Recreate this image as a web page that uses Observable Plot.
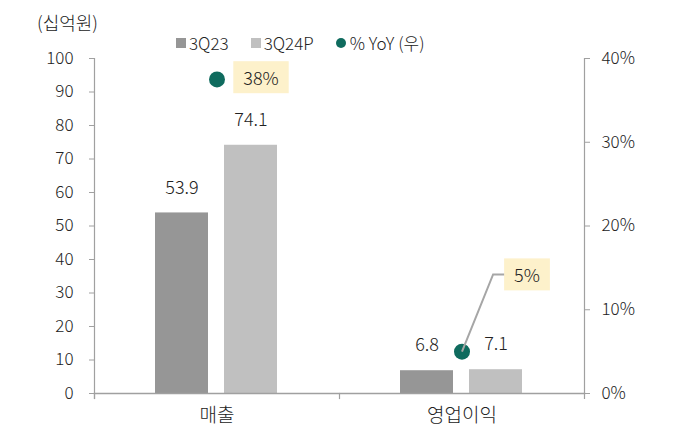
<!DOCTYPE html>
<html>
<head>
<meta charset="utf-8">
<script src="https://cdn.jsdelivr.net/npm/d3@7"></script>
<script src="https://cdn.jsdelivr.net/npm/@observablehq/plot@0.6"></script>
<style>
  body { margin: 0; background: #fff; font-family: "Noto Sans CJK KR", "Noto Sans", sans-serif; color: #222; font-weight: 300; }
  #wrap { position: relative; width: 680px; height: 438px; }
  #head { position: relative; width: 680px; height: 48px; }
  #unit { position: absolute; left: 37px; top: 9px; font-size: 18px; line-height: 26px; }
  #legend { position: absolute; left: 176px; top: 30px; display: flex; align-items: center; font-size: 17px; line-height: 26px; }
  .item { display: flex; align-items: center; margin-right: 22px; }
  .sw { width: 10px; height: 10px; margin-right: 3px; }
  .dt { width: 10px; height: 10px; border-radius: 50%; margin-right: 4px; }
  svg { display: block; overflow: visible; }
</style>
</head>
<body>
<div id="wrap">
  <div id="head">
    <div id="unit">(십억원)</div>
    <div id="legend"></div>
  </div>
</div>
<script>
// ---- data ----
const categories = ["매출", "영업이익"];
const series = ["3Q23", "3Q24P"];
const values3Q23 = [53.9, 6.8];
const values3Q24P = [74.1, 7.1];
const yoyPct = [37.5, 5.0];            // % YoY (right axis)
const yoyLabels = ["38%", "5%"];
const leftTicks = [0, 10, 20, 30, 40, 50, 60, 70, 80, 90, 100];
const rightTicksPct = [0, 10, 20, 30, 40];
const yoyLegend = "% YoY (우)";

// ---- styling / layout ----
const leftMax = 100, rightMax = 40;
const seriesColors = ["#969696", "#c0c0c0"];
const dotColor = "#0f6b5e";
const boxColor = "#fdf1cb";
const axisGray = "#a0a0a0";
const W = 680, H = 390, mT = 10, mB = 45, mL = 93, mR = 96;
const frameH = H - mT - mB;
const labelOffsets = [{dx: 44, dy: 0, leader: false}, {dx: 65, dy: -75, leader: true}];

const rows = [];
categories.forEach((c, i) => {
  rows.push({cat: c, series: series[0], value: values3Q23[i]});
  rows.push({cat: c, series: series[1], value: values3Q24P[i]});
});
const yoyRows = categories.map((c, i) => ({cat: c, pct: yoyPct[i], label: yoyLabels[i], yv: yoyPct[i] * leftMax / rightMax}));

// legend
const legend = document.getElementById("legend");
series.forEach((s, i) => {
  const it = document.createElement("div"); it.className = "item";
  it.innerHTML = `<span class="sw" style="background:${seriesColors[i]}"></span><span>${s}</span>`;
  legend.append(it);
});
{
  const it = document.createElement("div"); it.className = "item";
  it.innerHTML = `<span class="dt" style="background:${dotColor}"></span><span>${yoyLegend}</span>`;
  legend.append(it);
}

const chart = Plot.plot({
  width: W, height: H,
  marginTop: mT, marginBottom: mB, marginLeft: mL, marginRight: mR,
  style: {fontFamily: '"Noto Sans CJK KR", "Noto Sans", sans-serif', fontSize: "17px", fontWeight: 300, color: "#222", background: "#fff"},
  fx: {domain: categories, padding: 0, label: null, axis: null},
  x: {domain: series, paddingInner: 16 / 70, paddingOuter: 0.868, axis: null},
  y: {domain: [0, leftMax], axis: null},
  color: {domain: series, range: seriesColors},
  marks: [
    Plot.barY(rows, {fx: "cat", x: "series", y: "value", fill: "series"}),
    Plot.frame({facet: "super", anchor: "bottom", stroke: axisGray, strokeWidth: 1.5}),
    Plot.frame({facet: "super", anchor: "left", stroke: axisGray, strokeWidth: 1.2, insetBottom: -5}),
    Plot.frame({facet: "super", anchor: "right", stroke: axisGray, strokeWidth: 1.2, insetBottom: -5}),
    Plot.frame({anchor: "left", stroke: axisGray, strokeWidth: 1.2, insetTop: frameH, insetBottom: -5}),
    Plot.axisY(leftTicks, {anchor: "left", tickSize: 5, tickPadding: 16, label: null, stroke: axisGray, fill: "#222", fontSize: 17}),
    Plot.axisY(rightTicksPct.map(p => p * leftMax / rightMax), {anchor: "right", tickSize: 5, tickPadding: 12, label: null, stroke: axisGray, fill: "#222", fontSize: 17,
      tickFormat: d => Math.round(d * rightMax / leftMax) + "%"}),
    Plot.axisFx({anchor: "bottom", tickSize: 0, tickPadding: 15, label: null, fontSize: 19, fill: "#222"}),
    Plot.text(rows, {fx: "cat", x: "series", y: "value", text: d => d.value.toFixed(1), dy: -25, fontSize: 18, fill: "#222"}),
    Plot.dot(yoyRows, {fx: "cat", y: "yv", r: 8, fill: dotColor, ariaDescription: "yoy-dot"}),
    ...yoyRows.map((d, i) => Plot.text([d], {fx: "cat", y: "yv", text: "label", dx: labelOffsets[i].dx, dy: labelOffsets[i].dy,
      fontSize: 18, fill: "#222", ariaDescription: "yoy-label-" + i}))
  ]
});
document.getElementById("wrap").append(chart);

// label boxes + leader line
const ns = "http://www.w3.org/2000/svg";
const sr = chart.getBoundingClientRect();
const dots = [...chart.querySelectorAll('g[aria-description="yoy-dot"] circle')];
yoyRows.forEach((d, i) => {
  const t = chart.querySelector(`g[aria-description="yoy-label-${i}"] text`);
  if (!t) return;
  const b = t.getBBox();
  const r = document.createElementNS(ns, "rect");
  r.setAttribute("x", b.x - 10); r.setAttribute("y", b.y - 3);
  r.setAttribute("width", b.width + 20); r.setAttribute("height", b.height + 6);
  r.setAttribute("fill", boxColor);
  if (t.getAttribute("transform")) r.setAttribute("transform", t.getAttribute("transform"));
  t.parentNode.insertBefore(r, t);
  if (labelOffsets[i].leader && dots[i]) {
    const rb = r.getBoundingClientRect(), db = dots[i].getBoundingClientRect();
    const x0 = db.left + db.width / 2 - sr.left, y0 = db.top + db.height / 2 - sr.top;
    const x2 = rb.left - sr.left, y2 = rb.top + rb.height / 2 - sr.top;
    const p = document.createElementNS(ns, "path");
    p.setAttribute("d", `M${x0},${y0}L${x2 - 11},${y2}L${x2},${y2}`);
    p.setAttribute("fill", "none"); p.setAttribute("stroke", "#a6a6a6"); p.setAttribute("stroke-width", 2);
    chart.append(p);
  }
});
</script>
</body>
</html>
